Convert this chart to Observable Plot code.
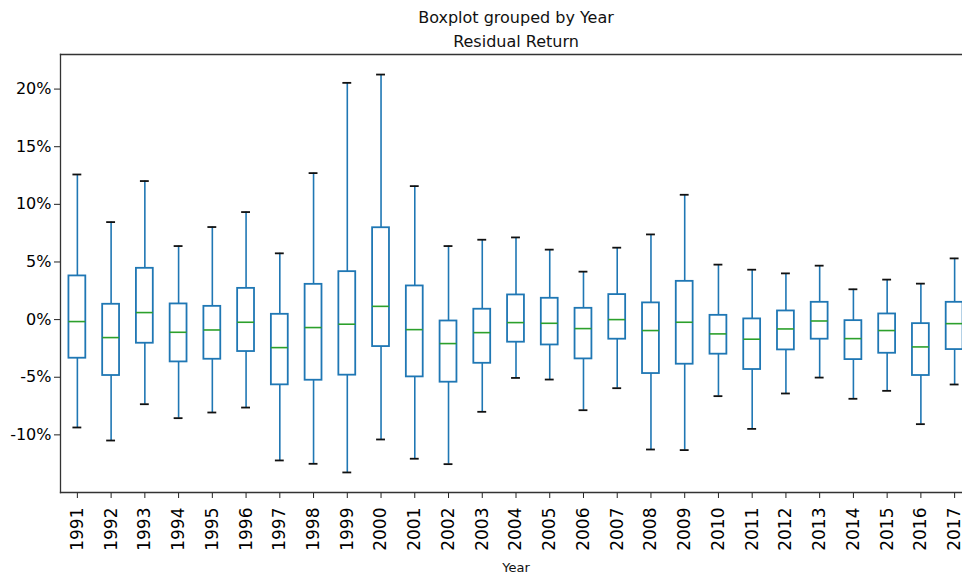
<!DOCTYPE html>
<html><head><meta charset="utf-8">
<script src="https://cdn.jsdelivr.net/npm/d3@7"></script>
<script src="https://cdn.jsdelivr.net/npm/@observablehq/plot@0.6"></script>
<style>
html,body{margin:0;padding:0;background:#fff;overflow:hidden}
</style>
</head><body><div id="chart"></div>
<script>
const years = [1991,1992,1993,1994,1995,1996,1997,1998,1999,2000,2001,2002,2003,2004,2005,2006,2007,2008,2009,2010,2011,2012,2013,2014,2015,2016,2017];
const whiskerLow  = [-9.36,-10.49,-7.34,-8.55,-8.06,-7.63,-12.22,-12.51,-13.26,-10.40,-12.07,-12.54,-8.00,-5.06,-5.20,-7.86,-5.95,-11.27,-11.32,-6.64,-9.48,-6.41,-5.03,-6.87,-6.18,-9.07,-5.63];
const q1          = [-3.35,-4.85,-2.05,-3.67,-3.44,-2.77,-5.66,-5.26,-4.82,-2.34,-4.97,-5.43,-3.79,-1.96,-2.20,-3.41,-1.70,-4.68,-3.87,-3.00,-4.33,-2.63,-1.70,-3.47,-2.92,-4.85,-2.60];
const median      = [-0.17,-1.56,0.61,-1.10,-0.90,-0.23,-2.43,-0.69,-0.40,1.15,-0.87,-2.08,-1.13,-0.26,-0.32,-0.78,0.00,-0.95,-0.23,-1.24,-1.70,-0.81,-0.12,-1.65,-0.95,-2.37,-0.35];
const q3          = [3.79,1.33,4.45,1.36,1.15,2.71,0.46,3.06,4.16,7.97,2.92,-0.12,0.90,2.14,1.85,0.98,2.17,1.45,3.32,0.37,0.06,0.75,1.50,-0.09,0.49,-0.35,1.50];
const whiskerHigh = [12.59,8.46,12.02,6.38,8.03,9.33,5.75,12.71,20.54,21.26,11.58,6.38,6.93,7.13,6.07,4.16,6.24,7.39,10.83,4.77,4.33,4.01,4.68,2.63,3.47,3.12,5.31];
const yTicks = [-10,-5,0,5,10,15,20];
const titleText = "Boxplot grouped by Year\nResidual Return";
const xLabelText = "Year";

const rows = years.map((year, i) => ({
  year: String(year), low: whiskerLow[i], q1: q1[i], median: median[i], q3: q3[i], high: whiskerHigh[i]
}));

const blue = "#1f77b4", green = "#2ca02c";

const chart = Plot.plot({
  width: 962, height: 574,
  marginLeft: 60, marginRight: 0, marginTop: 54, marginBottom: 82,
  style: {fontFamily: "'DejaVu Sans'", fontSize: "16px", color: "#000", background: "#fff"},
  x: {type: "band", domain: years.map(String), range: [60, 971], round: false, paddingInner: 0.5, paddingOuter: 0.25, align: 0.5, label: null},
  y: {domain: [-15, 23], label: null},
  marks: [
    Plot.axisX({tickRotate: -90, tickSize: 6, tickPadding: 9, fontSize: 17, label: null, stroke: "#222"}),
    Plot.axisY({ticks: yTicks, tickFormat: d => `${d}%`, tickSize: 6, tickPadding: 3, fontSize: 16, label: null, stroke: "#222"}),
    Plot.ruleX(rows, {x: "year", y1: "low", y2: "q1", stroke: blue, strokeWidth: 1.6}),
    Plot.ruleX(rows, {x: "year", y1: "q3", y2: "high", stroke: blue, strokeWidth: 1.6}),
    Plot.tickY(rows, {x: "year", y: "low", stroke: "#111", strokeWidth: 1.8, insetLeft: 4, insetRight: 4}),
    Plot.tickY(rows, {x: "year", y: "high", stroke: "#111", strokeWidth: 1.8, insetLeft: 4, insetRight: 4}),
    Plot.barY(rows, {x: "year", y1: "q1", y2: "q3", fill: "none", stroke: blue, strokeWidth: 1.8}),
    Plot.tickY(rows, {x: "year", y: "median", stroke: green, strokeWidth: 1.6}),
    Plot.frame({anchor: "top", stroke: "#333", strokeWidth: 1.3}),
    Plot.frame({anchor: "left", stroke: "#333", strokeWidth: 1.3}),
    Plot.frame({anchor: "bottom", stroke: "#333", strokeWidth: 1.3}),
    Plot.text([titleText], {frameAnchor: "top", lineAnchor: "bottom", lineHeight: 1.44, dx: 4.5, dy: -8, fontSize: 16, fill: "#111"}),
    Plot.text([xLabelText], {frameAnchor: "bottom", lineAnchor: "middle", dx: 4.5, dy: 75, fontSize: 13, fill: "#111"})
  ]
});
document.getElementById("chart").appendChild(chart);
</script>
</body></html>
